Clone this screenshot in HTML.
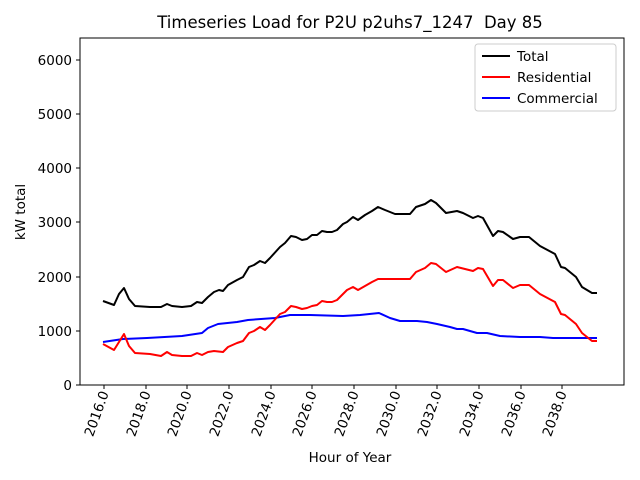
<!DOCTYPE html>
<html><head><meta charset="utf-8"><style>body{margin:0;background:#fff}svg{display:block}text{font-family:"DejaVu Sans","Liberation Sans",sans-serif;fill:#000}</style></head><body>
<svg width="640" height="480" viewBox="0 0 640 480" xmlns="http://www.w3.org/2000/svg">
<rect width="640" height="480" fill="#fff"/>
<text x="350" y="28" font-size="16.5" text-anchor="middle" style="white-space:pre">Timeseries Load for P2U p2uhs7_1247&#160; Day 85</text>
<g fill="none" stroke-width="2" stroke-linejoin="round">
<polyline stroke="#0000ff" points="103,342 123,339 147,338 182,336 202,333 208,328 218,324 237,322 248,320 275,318 290,315 310,315 343,316 360,315 379,313 390,318 400,321 417,321 427,322 437,324 450,327 457,329 463,329 477,333 487,333 500,336 520,337 540,337 553,338 573,338 597,338"/>
<polyline stroke="#ff0000" points="103,344 114,350 124,334 129,346 135,353 150,354 161,356 167,352 172,355 182,356 191,356 197,353 202,355 208,352 214,351 223,352 228,347 237,343 243,341 249,333 254,331 260,327 265,330 270,325 280,314 285,312 291,306 296,307 302,309 307,308 312,306 317,305 322,301 327,302 332,302 337,300 343,294 347,290 353,287 358,290 365,286 372,282 378,279 395,279 410,279 416,272 425,268 431,263 436,264 446,272 457,267 473,271 478,268 483,269 493,286 498,280 503,280 513,288 520,285 529,285 540,294 555,302 561,314 565,315 576,324 582,333 592,341 597,341"/>
<polyline stroke="#000" points="103,301 114,305 119,294 124,288 129,299 135,306 150,307 161,307 167,304 172,306 182,307 191,306 197,302 202,303 208,297 214,292 219,290 223,291 228,285 237,280 243,277 249,267 254,265 260,261 265,263 270,258 280,247 285,243 291,236 296,237 302,240 307,239 312,235 317,235 322,231 327,232 332,232 337,230 343,224 347,222 353,217 358,220 365,215 372,211 378,207 385,210 395,214 410,214 416,207 425,204 431,200 436,203 446,213 457,211 463,213 473,218 478,216 483,218 493,236 498,231 503,232 513,239 520,237 529,237 540,246 555,254 561,267 565,268 576,277 582,287 592,293 597,293"/>
</g>
<rect x="80" y="38" width="544" height="347" fill="none" stroke="#000" stroke-width="1"/>
<g stroke="#000" stroke-width="1">
<line x1="76" y1="385" x2="80" y2="385"/><line x1="76" y1="331" x2="80" y2="331"/><line x1="76" y1="277" x2="80" y2="277"/><line x1="76" y1="222" x2="80" y2="222"/><line x1="76" y1="168" x2="80" y2="168"/><line x1="76" y1="114" x2="80" y2="114"/><line x1="76" y1="60" x2="80" y2="60"/>
<line x1="104" y1="385" x2="104" y2="389"/><line x1="146" y1="385" x2="146" y2="389"/><line x1="187" y1="385" x2="187" y2="389"/><line x1="229" y1="385" x2="229" y2="389"/><line x1="271" y1="385" x2="271" y2="389"/><line x1="312" y1="385" x2="312" y2="389"/><line x1="354" y1="385" x2="354" y2="389"/><line x1="396" y1="385" x2="396" y2="389"/><line x1="437" y1="385" x2="437" y2="389"/><line x1="479" y1="385" x2="479" y2="389"/><line x1="521" y1="385" x2="521" y2="389"/><line x1="562" y1="385" x2="562" y2="389"/>
</g>
<g font-size="13.5" text-anchor="end">
<text x="72" y="390">0</text><text x="72" y="336">1000</text><text x="72" y="282">2000</text><text x="72" y="227">3000</text><text x="72" y="173">4000</text><text x="72" y="119">5000</text><text x="72" y="65">6000</text>
</g>
<g font-size="13.5" text-anchor="end">
<text transform="translate(109,393) rotate(-70)">2016.0</text>
<text transform="translate(151,393) rotate(-70)">2018.0</text>
<text transform="translate(192,393) rotate(-70)">2020.0</text>
<text transform="translate(234,393) rotate(-70)">2022.0</text>
<text transform="translate(276,393) rotate(-70)">2024.0</text>
<text transform="translate(317,393) rotate(-70)">2026.0</text>
<text transform="translate(359,393) rotate(-70)">2028.0</text>
<text transform="translate(401,393) rotate(-70)">2030.0</text>
<text transform="translate(442,393) rotate(-70)">2032.0</text>
<text transform="translate(484,393) rotate(-70)">2034.0</text>
<text transform="translate(526,393) rotate(-70)">2036.0</text>
<text transform="translate(567,393) rotate(-70)">2038.0</text>
</g>
<text x="350" y="462" font-size="13.5" text-anchor="middle">Hour of Year</text>
<text transform="translate(25,212) rotate(-90)" font-size="13.5" text-anchor="middle">kW total</text>
<rect x="475" y="44" width="141" height="67" rx="3" fill="#fff" stroke="#ccc" stroke-width="1"/>
<line x1="482" y1="56" x2="510" y2="56" stroke="#000" stroke-width="2"/>
<line x1="482" y1="77" x2="510" y2="77" stroke="#ff0000" stroke-width="2"/>
<line x1="482" y1="98" x2="510" y2="98" stroke="#0000ff" stroke-width="2"/>
<g font-size="13.5"><text x="517" y="61">Total</text><text x="517" y="82">Residential</text><text x="517" y="103">Commercial</text></g>
</svg>
</body></html>
